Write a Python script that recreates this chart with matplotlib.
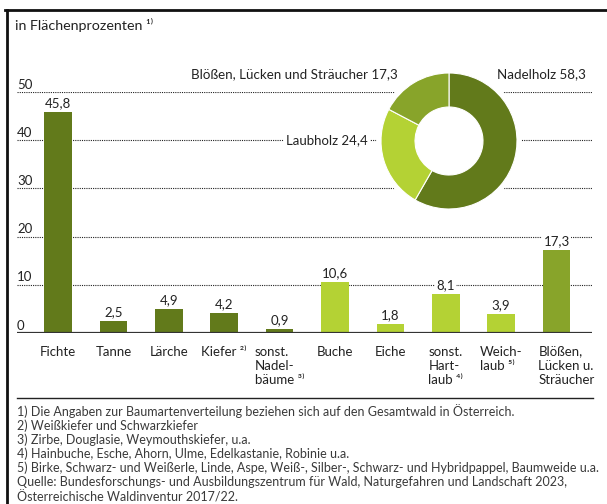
import numpy as np
import matplotlib
matplotlib.use("Agg")
import matplotlib.pyplot as plt
from matplotlib.lines import Line2D
from matplotlib.patches import Circle

plt.rcParams['font.family'] = ['Lato', 'DejaVu Sans']

# data
species = ["Fichte", "Tanne", "Lärche", "Kiefer ²⁾", "sonst.\nNadel-\nbäume ³⁾",
           "Buche", "Eiche", "sonst.\nHart-\nlaub ⁴⁾", "Weich-\nlaub ⁵⁾",
           "Blößen,\nLücken u.\nSträucher"]
values = [45.8, 2.5, 4.9, 4.2, 0.9, 10.6, 1.8, 8.1, 3.9, 17.3]
groups = ["Nadelholz"] * 5 + ["Laubholz"] * 4 + ["Blößen"]
yticks = [0, 10, 20, 30, 40, 50]

donut_names = ["Nadelholz", "Laubholz", "Blößen, Lücken und Sträucher"]
donut_values = [58.3, 24.4, 17.3]

footnotes = [
    "1) Die Angaben zur Baumartenverteilung beziehen sich auf den Gesamtwald in Österreich.",
    "2) Weißkiefer und Schwarzkiefer",
    "3) Zirbe, Douglasie, Weymouthskiefer, u.a.",
    "4) Hainbuche, Esche, Ahorn, Ulme, Edelkastanie, Robinie u.a.",
    "5) Birke, Schwarz- und Weißerle, Linde, Aspe, Weiß-, Silber-, Schwarz- und Hybridpappel, Baumweide u.a.",
    "Quelle: Bundesforschungs- und Ausbildungszentrum für Wald, Naturgefahren und Landschaft 2023,",
    "Österreichische Waldinventur 2017/22.",
]

colors = {"Nadelholz": "#627a1b", "Laubholz": "#b4d234", "Blößen": "#88a42a"}

W, H = 607, 504
fig = plt.figure(figsize=(W / 100, H / 100), dpi=100)


def fx(px):
    return px / W


def fy(py):
    return 1 - py / H


def fmt(v):
    return f"{v:.1f}".replace(".", ",")


# frame lines (top and left)
fig.add_artist(Line2D([fx(5), 1], [fy(10), fy(10)], color="#111111", lw=2))
fig.add_artist(Line2D([fx(7), fx(7)], [fy(10), 0], color="#111111", lw=2))

fig.text(fx(15), fy(25), "in Flächenprozenten ¹⁾", fontsize=10.3, va="center", color="#222222")

# bar chart
ax = fig.add_axes([fx(17), fy(333), fx(592) - fx(17), fy(92) - fy(333)])
x = np.arange(len(values))
ax.bar(x, values, width=0.5, color=[colors[g] for g in groups], zorder=3)
ax.set_xlim(-0.74, 9.64)
ax.set_ylim(0, 50)
for s in ax.spines.values():
    s.set_visible(False)
ax.set_xticks([])
ax.set_yticks([])

for t in yticks:
    if t == 0:
        ax.axhline(0, color="#333333", lw=1.6, zorder=4)
    else:
        ax.axhline(t, color="#222222", lw=0.8, ls=(0, (1, 1)), zorder=1)
    ax.annotate(str(t), (0, t), xycoords=ax.get_yaxis_transform(), xytext=(0, 2.5),
                textcoords="offset points", va="baseline", ha="left", fontsize=9.5, color="#222222")

for xi, v in zip(x, values):
    ax.annotate(fmt(v), (xi, v), xytext=(0, 2), textcoords="offset points", ha="center",
                va="bottom", fontsize=9.5, color="#222222", zorder=5,
                bbox=dict(boxstyle="square,pad=0.1", fc="white", ec="none"))

for i, lab in enumerate(species):
    if i == len(species) - 1:
        ax.annotate(lab, (i, 0), xytext=(-13, -9), textcoords="offset points", ha="left",
                    va="top", fontsize=9.5, linespacing=1.25, color="#222222")
    else:
        ax.annotate(lab, (i, 0), xytext=(0, -9), textcoords="offset points", ha="center",
                    va="top", multialignment="left", fontsize=9.5, linespacing=1.25, color="#222222")

# Laubholz label on the 40 line
ax.text((368 - 17) / (592 - 17), 40, f"{donut_names[1]} {fmt(donut_values[1])}",
        transform=ax.get_yaxis_transform(), ha="right", va="center",
        fontsize=9.5, color="#222222", zorder=5,
        bbox=dict(boxstyle="square,pad=0.15", fc="white", ec="none"))

# donut
R = 68
cx, cy = 449, 141
half = 78
dax = fig.add_axes([fx(cx - half), fy(cy + half), fx(2 * half), fx(2 * half) * W / H])
dax.set_aspect("equal")
dax.axis("off")
dax.add_patch(Circle((0, 0), 1.06, color="white", zorder=0))
dax.pie(donut_values, colors=[colors[g] for g in ["Nadelholz", "Laubholz", "Blößen"]],
        startangle=90, counterclock=False, radius=1,
        wedgeprops=dict(width=0.5, edgecolor="white", linewidth=0.8))
dax.set_xlim(-half / R, half / R)
dax.set_ylim(-half / R, half / R)

fig.text(fx(398), fy(74), f"{donut_names[2]} {fmt(donut_values[2])}", ha="right", va="center",
         fontsize=9.6, color="#222222")
fig.text(fx(497), fy(74), f"{donut_names[0]} {fmt(donut_values[0])}", ha="left", va="center",
         fontsize=9.6, color="#222222")

# rule and footnotes
fig.add_artist(Line2D([fx(17), fx(593)], [fy(398), fy(398)], color="#222222", lw=1))
for k, line in enumerate(footnotes):
    fig.text(fx(17), fy(411 + 14.3 * k), line, ha="left", va="center", fontsize=9,
             color="#3a3a3a")

fig.savefig("out.png", dpi=100)
